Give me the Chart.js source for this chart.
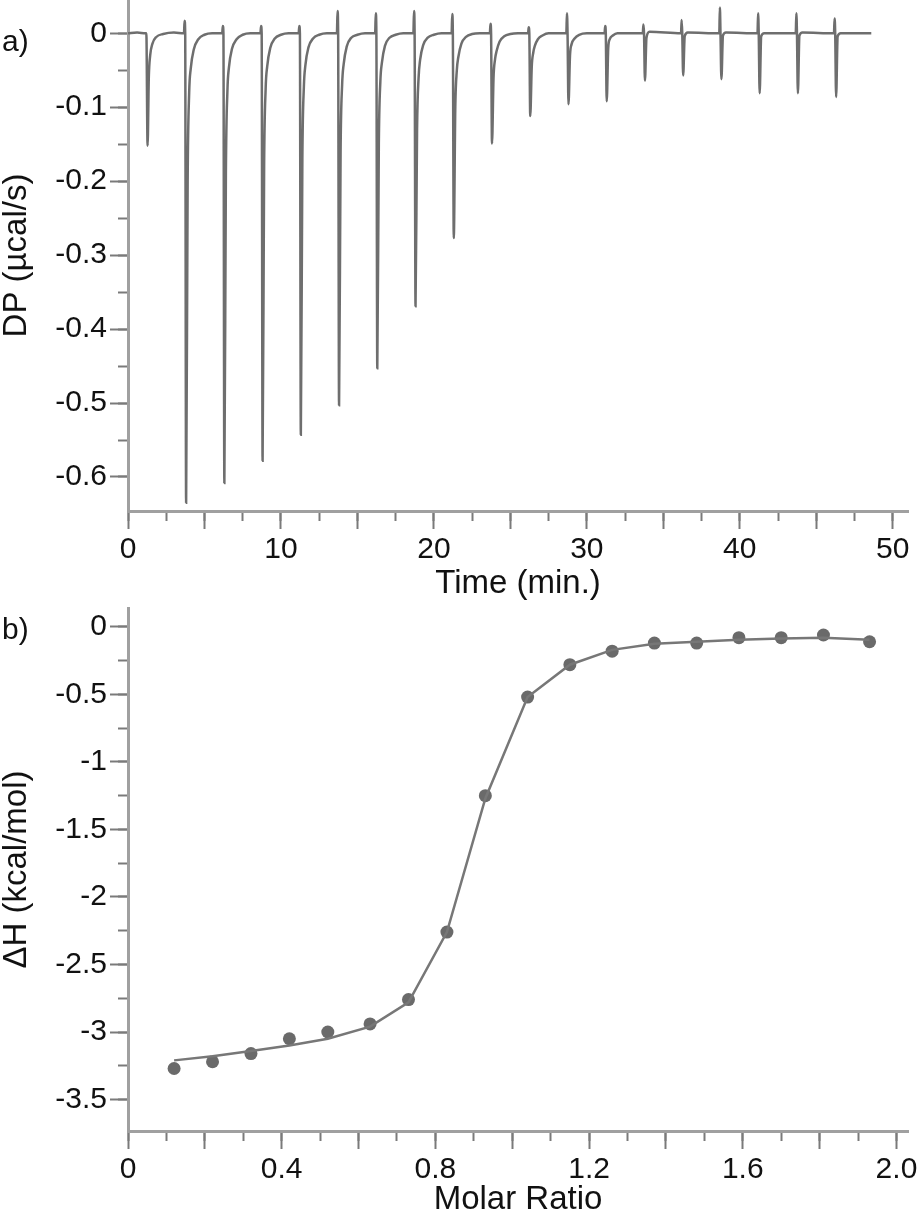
<!DOCTYPE html>
<html>
<head>
<meta charset="utf-8">
<script src="https://cdn.jsdelivr.net/npm/chart.js@4.4.0/dist/chart.umd.min.js"></script>
<style>
  body { margin: 0; background: #fff; }
  #wrap { position: relative; width: 920px; height: 1216px; }
  canvas { position: absolute; left: 0; }
  .panel { position: absolute; left: 2px; font: 30px "Liberation Sans", Arial, sans-serif; line-height: 30px; color: #111; }
</style>
</head>
<body>
<div id="wrap">
  <canvas id="canvasA" width="920" height="600" style="top:0"></canvas>
  <canvas id="canvasB" width="920" height="616" style="top:600px"></canvas>
  <div class="panel" style="top:26px">a)</div>
  <div class="panel" style="top:614px">b)</div>
</div>
<script>
// a) raw thermogram, [time (min), DP (ucal/s)], one line per injection
const dpTrace = [
  [0, 0], [0.6, 0.001], [1.15, 0],
  [1.2, 0], [1.28, -0.152], [1.36, -0.06], [1.45, -0.03], [1.6, -0.014], [1.85, -0.005], [2.3, -0.001], [3.0, 0.001], [3.66, 0],
  [3.7, 0.017], [3.74, 0], [3.8, -0.635], [3.9, -0.2], [4.0, -0.08], [4.1, -0.048], [4.3, -0.022], [4.6, -0.008], [5.0, -0.002], [5.5, 0], [6.16, 0],
  [6.2, 0.01], [6.24, 0], [6.3, -0.608], [6.4, -0.19], [6.5, -0.078], [6.6, -0.046], [6.8, -0.021], [7.1, -0.008], [7.5, -0.002], [8.0, 0], [8.66, 0],
  [8.7, 0.01], [8.74, 0], [8.8, -0.578], [8.9, -0.18], [9.0, -0.075], [9.1, -0.045], [9.3, -0.02], [9.6, -0.007], [10.0, -0.002], [10.5, 0], [11.16, 0],
  [11.2, 0.01], [11.24, 0], [11.3, -0.543], [11.4, -0.17], [11.5, -0.072], [11.6, -0.043], [11.8, -0.019], [12.1, -0.007], [12.5, -0.002], [13.0, 0], [13.66, 0],
  [13.7, 0.03], [13.74, 0], [13.8, -0.503], [13.9, -0.16], [14.0, -0.07], [14.1, -0.042], [14.3, -0.018], [14.6, -0.006], [15.0, -0.002], [15.5, 0], [16.16, 0],
  [16.2, 0.027], [16.24, 0], [16.3, -0.453], [16.4, -0.15], [16.5, -0.065], [16.6, -0.04], [16.8, -0.017], [17.1, -0.006], [17.5, -0.002], [18.0, 0], [18.66, 0],
  [18.7, 0.03], [18.74, 0], [18.8, -0.369], [18.9, -0.13], [19.0, -0.06], [19.1, -0.036], [19.3, -0.016], [19.6, -0.006], [20.0, -0.002], [20.5, 0], [21.16, 0],
  [21.2, 0.026], [21.24, 0], [21.3, -0.277], [21.4, -0.1], [21.5, -0.05], [21.6, -0.032], [21.8, -0.014], [22.1, -0.005], [22.5, -0.001], [23.0, 0], [23.66, 0],
  [23.7, 0.013], [23.74, 0], [23.8, -0.149], [23.9, -0.06], [24.0, -0.035], [24.1, -0.024], [24.3, -0.011], [24.6, -0.004], [25.0, -0.001], [25.5, 0], [26.16, 0],
  [26.2, 0.008], [26.24, 0], [26.3, -0.112], [26.4, -0.045], [26.5, -0.026], [26.6, -0.017], [26.8, -0.008], [27.1, -0.003], [27.5, 0], [28.66, 0],
  [28.7, 0.027], [28.74, 0], [28.8, -0.096], [28.9, -0.03], [29.0, -0.015], [29.2, -0.007], [29.5, -0.002], [30.0, 0], [31.16, 0],
  [31.2, 0.01], [31.24, 0], [31.3, -0.092], [31.4, -0.02], [31.5, -0.008], [31.7, -0.003], [32.0, 0], [33.66, 0],
  [33.7, 0.012], [33.74, 0], [33.8, -0.064], [33.9, -0.006], [34.1, 0.002], [36.16, 0],
  [36.2, 0.018], [36.24, 0], [36.3, -0.057], [36.4, -0.004], [36.6, 0.001], [38.66, 0],
  [38.7, 0.035], [38.74, 0], [38.8, -0.062], [38.9, -0.003], [39.1, 0.001], [41.16, 0],
  [41.2, 0.027], [41.24, 0], [41.3, -0.081], [41.4, -0.004], [41.6, 0], [43.66, 0],
  [43.7, 0.027], [43.74, 0], [43.8, -0.081], [43.9, -0.003], [44.1, 0.001], [46.16, 0],
  [46.2, 0.02], [46.24, 0], [46.3, -0.086], [46.4, -0.004], [46.6, 0], [48.6, 0]
];

// b) integrated heats and fit
const molarRatio = [0.12, 0.22, 0.32, 0.42, 0.52, 0.63, 0.73, 0.83, 0.93, 1.04, 1.15, 1.26, 1.37, 1.48, 1.59, 1.70, 1.81, 1.93];
const deltaH = [-3.27, -3.22, -3.16, -3.05, -3.0, -2.94, -2.76, -2.26, -1.25, -0.52, -0.28, -0.18, -0.12, -0.12, -0.08, -0.08, -0.06, -0.11];
const fitDeltaH = [-3.21, -3.18, -3.14, -3.10, -3.05, -2.96, -2.78, -2.26, -1.27, -0.52, -0.28, -0.17, -0.125, -0.11, -0.095, -0.085, -0.08, -0.095];

const FONT = { family: "'Liberation Sans', Arial, sans-serif", size: 30 };
const TITLE_FONT = { family: "'Liberation Sans', Arial, sans-serif", size: 33, lineHeight: 1.0 };
const AXIS_COLOR = '#a0a0a0';
const TICK_COLOR = '#7a7a7a';
const LINE_COLOR = '#6e6e6e';

function majorAxis(position, min, max, step, size, fmt, title) {
  return {
    type: 'linear', position: position, min: min, max: max, weight: 1,
    border: { display: true, color: AXIS_COLOR, width: 3 },
    grid: { drawOnChartArea: false, tickLength: 18, tickColor: TICK_COLOR, tickWidth: 2 },
    ticks: { stepSize: step, includeBounds: false, autoSkip: false, maxRotation: 0,
             color: '#111', font: FONT, padding: 3, callback: fmt },
    title: { display: true, text: title, color: '#111', font: TITLE_FONT, padding: 0 },
    afterFit: function (s) {
      // keep the plot box where the reference has it, no room for overhanging labels
      if (position === 'left') { s.width = size; s.paddingTop = 0; s.paddingBottom = 0; }
      else { s.height = size; s.paddingLeft = 0; s.paddingRight = 0; }
    }
  };
}

function minorAxis(position, min, max, step) {
  return {
    type: 'linear', position: position, min: min, max: max, weight: 0,
    border: { display: false },
    grid: { drawOnChartArea: false, tickLength: 10, tickColor: TICK_COLOR, tickWidth: 2 },
    ticks: { stepSize: step, includeBounds: false, autoSkip: false, maxRotation: 0,
             font: { size: 1 }, callback: () => '' },
    afterFit: function (s) {
      if (position === 'left') s.width = 0; else s.height = 0;
      s.paddingTop = 0; s.paddingBottom = 0; s.paddingLeft = 0; s.paddingRight = 0;
    }
  };
}

const isMult = (v, m) => Math.abs(v / m - Math.round(v / m)) < 1e-6;

const baseOptions = {
  responsive: false,
  animation: false,
  devicePixelRatio: 1,
  plugins: { legend: { display: false }, tooltip: { enabled: false } }
};

window.onload = function () {
  new Chart(document.getElementById('canvasA').getContext('2d'), {
    type: 'scatter',
    data: {
      datasets: [{
        data: dpTrace.map(p => ({ x: p[0], y: p[1] })),
        showLine: true,
        borderColor: LINE_COLOR,
        borderWidth: 2.5,
        pointRadius: 0,
        cubicInterpolationMode: 'monotone'
      }]
    },
    options: Object.assign({}, baseOptions, {
      layout: { padding: { left: 0, right: 12, top: 0, bottom: 0 } },
      scales: {
        x: majorAxis('bottom', 0, 51, 5, 89, v => (isMult(v, 10) ? String(Math.round(v)) : ''), 'Time (min.)'),
        xMinor: minorAxis('bottom', 0, 51, 2.5),
        y: majorAxis('left', -0.646, 0.045, 0.1, 128, v => (Math.abs(v) < 1e-9 ? '0' : v.toFixed(1)), 'DP (µcal/s)'),
        yMinor: minorAxis('left', -0.646, 0.045, 0.05)
      }
    })
  });

  new Chart(document.getElementById('canvasB').getContext('2d'), {
    type: 'scatter',
    data: {
      datasets: [{
        data: molarRatio.map((x, i) => ({ x: x, y: fitDeltaH[i] })),
        showLine: true,
        borderColor: '#777777',
        borderWidth: 2.5,
        pointRadius: 0
      }, {
        data: molarRatio.map((x, i) => ({ x: x, y: deltaH[i] })),
        showLine: false,
        pointRadius: 6.5,
        pointBackgroundColor: '#6a6a6a',
        pointBorderWidth: 0
      }]
    },
    options: Object.assign({}, baseOptions, {
      layout: { padding: { left: 0, right: 12, top: 8, bottom: 0 } },
      scales: {
        x: majorAxis('bottom', 0, 2.03, 0.2, 85, v => {
          const r = Math.round(v * 10) / 10;
          if (!isMult(r, 0.4)) return '';
          return r === 0 ? '0' : r.toFixed(1);
        }, 'Molar Ratio'),
        xMinor: minorAxis('bottom', 0, 2.03, 0.1),
        y: majorAxis('left', -3.733, 0.14, 0.5, 128, v => {
          const r = Math.round(v * 10) / 10;
          return r === 0 ? '0' : String(r);
        }, 'ΔH (kcal/mol)'),
        yMinor: minorAxis('left', -3.733, 0.14, 0.25)
      }
    })
  });
};
</script>
</body>
</html>
